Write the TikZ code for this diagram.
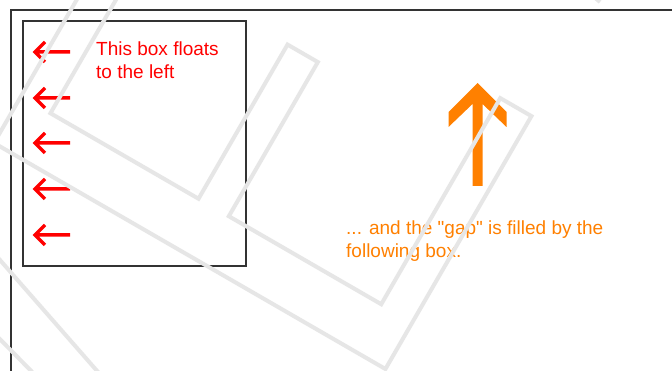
\documentclass[tikz,border=0pt]{standalone}
\usepackage{fontspec}
\setmainfont{Liberation Sans}[Ligatures=TeXOff]
\usepackage{xcolor}
\usepackage{tikz}
\definecolor{floatred}{RGB}{255,0,0}
\definecolor{gaporange}{RGB}{255,128,0}
\definecolor{markgray}{RGB}{230,230,230}
\definecolor{boxgray}{RGB}{51,51,51}

\begin{document}
\begin{tikzpicture}[x=1pt, y=-1pt,
    boxline/.style={draw=boxgray, line width=1.3pt},
    leftarrow/.style={draw=floatred, line width=3.5pt},
    note/.style={anchor=base west, inner sep=0pt, align=left, font=\fontsize{19}{23}\selectfont},
    wmark/.style={draw=markgray, line width=4pt}]
    % 1. Khung ngoai va hop trai
    \clip (0,0) rectangle (672,371);
    \fill[white] (0,0) rectangle (672,371);
    \draw[boxline] (11,10) rectangle (690,390);
    \draw[boxline] (23,21) rectangle (246,266);

    % 2. Cac mui ten do
    \foreach \y in {52,98,143,189,235}
        \draw[leftarrow] (45,{\y-10}) -- (35,\y) -- (45,{\y+10}) (35,\y) -- (70,\y);

    % 3. Chu (moc o dong cuoi)
    \node[note, text=floatred] (floattext) at (96,79) {This box floats\\to the left};
    \node[note, text=gaporange] (gaptext) at (346,258)
        {... and the "gap" is filled by the\\following box.};

    % 4. Mui ten cam
    \fill[gaporange] (477.5,83) -- (506.5,112) -- (506.5,127) -- (482.5,104) -- (482.5,186)
        -- (472.5,186) -- (472.5,104) -- (448.5,127) -- (448.5,112) -- cycle;

    % 5. Hinh mo phia tren
    \begin{scope}[shift={(-6,143)}, x={(0.866pt,-0.5pt)}, y={(0.5pt,0.866pt)}]
        \draw[wmark] (0,0) -- (452,0) -- (452,292) -- (416,292) -- (416,54) -- (240,54)
            -- (240,232) -- (205,232) -- (205,54) -- (34,54) -- (34,292) -- (0,292) -- cycle;
    \end{scope}
    \draw[wmark] (-10,248.6) -- (105,380);
    \draw[wmark] (-10,329) -- (40,380);
    \draw[wmark] (593,-4) -- (600,2);
\end{tikzpicture}
\end{document}
